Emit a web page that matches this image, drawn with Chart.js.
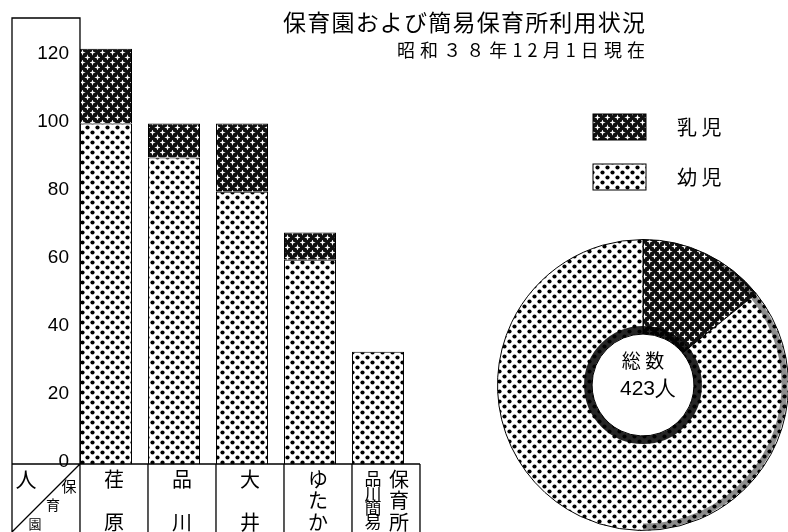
<!DOCTYPE html>
<html>
<head>
<meta charset="utf-8">
<script src="https://cdn.jsdelivr.net/npm/chart.js@4/dist/chart.umd.min.js"></script>
<style>
  html, body { margin: 0; padding: 0; background: #fff; overflow: hidden; }
  #wrap { position: relative; width: 788px; height: 532px; }
  #barChart { position: absolute; left: 0; top: 0; }
  #pieChart { position: absolute; left: 497px; top: 239px; }
</style>
</head>
<body>
<div id="wrap">
  <canvas id="barChart" width="788" height="532"></canvas>
  <canvas id="pieChart" width="292" height="292"></canvas>
</div>
<script>
// data
const categories = [['荏原'], ['品川'], ['大井'], ['ゆたか'], ['品川簡易', '保育所']];
const infants = [22, 10, 20, 8, 0];      // 乳児
const toddlers = [100, 90, 80, 60, 33];  // 幼児
const yTicks = [0, 20, 40, 60, 80, 100, 120];
const seriesNames = ['乳 児', '幼 児'];
const pieLabels = ['乳児', '幼児'];
const pieValues = [60, 363];
const centerText = ['総 数', '423人'];
const titleText = '保育園および簡易保育所利用状況';
const subtitleText = '昭和３８年12月1日現在';

const JP = '"Noto Sans CJK JP", "Noto Sans", sans-serif';
const NUM = '"Liberation Sans Narrow", "Liberation Sans", sans-serif';

function dotPattern(ctx) {
  const c = document.createElement('canvas');
  c.width = 10; c.height = 10;
  const g = c.getContext('2d');
  g.fillStyle = '#fff';
  g.fillRect(0, 0, 10, 10);
  g.fillStyle = '#000';
  [[2.5, 2.5], [7.5, 7.5]].forEach(([x, y]) => {
    g.beginPath();
    g.arc(x, y, 2.1, 0, Math.PI * 2);
    g.fill();
  });
  return ctx.createPattern(c, 'repeat');
}

function starPattern(ctx) {
  const c = document.createElement('canvas');
  c.width = 10; c.height = 10;
  const g = c.getContext('2d');
  g.fillStyle = '#111';
  g.fillRect(0, 0, 10, 10);
  g.fillStyle = '#fff';
  [[2.5, 2.5], [7.5, 7.5]].forEach(([x, y]) => {
    g.beginPath();
    for (let k = 0; k < 8; k++) {
      const r = k % 2 === 0 ? 3.2 : 1.1;
      const a = k * Math.PI / 4;
      g.lineTo(x + r * Math.cos(a), y + r * Math.sin(a));
    }
    g.closePath();
    g.fill();
  });
  return ctx.createPattern(c, 'repeat');
}

const barCtx = document.getElementById('barChart').getContext('2d');
const barDots = dotPattern(barCtx);
const barStars = starPattern(barCtx);

function drawVertical(ctx, text, x, size) {
  const n = text.length;
  const y0 = 479, y1 = 522;
  ctx.font = size + 'px ' + JP;
  for (let i = 0; i < n; i++) {
    const y = n === 1 ? (y0 + y1) / 2 : y0 + (y1 - y0) * i / (n - 1);
    ctx.fillText(text[i], x, y);
  }
}

function spacedText(ctx, text, xRight, y, width) {
  ctx.letterSpacing = '0px';
  const w = ctx.measureText(text).width;
  const sp = (width - w) / (text.length - 1);
  ctx.letterSpacing = sp + 'px';
  ctx.textAlign = 'left';
  ctx.fillText(text, xRight - width, y);
  ctx.letterSpacing = '0px';
}

const framePlugin = {
  id: 'frame',
  afterDraw(chart) {
    const ctx = chart.ctx;
    const x = chart.scales.x;
    const area = chart.chartArea;
    const bw = chart.getDatasetMeta(0).data[0].width;
    const edges = [];
    for (let i = 0; i <= categories.length; i++) edges.push(x.getPixelForValue(i) - bw / 2);
    const left = 12, top = 18, bottom = 532, rowTop = area.bottom;

    ctx.save();
    ctx.strokeStyle = '#000';
    ctx.lineWidth = 1.3;
    ctx.beginPath();
    ctx.moveTo(left, bottom); ctx.lineTo(left, top); ctx.lineTo(edges[0], top); ctx.lineTo(edges[0], bottom);
    ctx.moveTo(left, rowTop); ctx.lineTo(edges[edges.length - 1], rowTop);
    for (let i = 1; i < edges.length; i++) {
      ctx.moveTo(edges[i], rowTop); ctx.lineTo(edges[i], bottom);
    }
    ctx.moveTo(left, bottom); ctx.lineTo(edges[0], rowTop);
    ctx.stroke();

    // header cell
    ctx.fillStyle = '#000';
    ctx.textAlign = 'center';
    ctx.textBaseline = 'middle';
    ctx.font = '21px ' + JP; ctx.fillText('人', 26, 479);
    ctx.font = '15px ' + JP; ctx.fillText('保', 69, 486);
    ctx.font = '14px ' + JP; ctx.fillText('育', 53, 505);
    ctx.font = '13px ' + JP; ctx.fillText('園', 35, 524);

    // category labels, written top to bottom
    categories.forEach((cols, i) => {
      const cx = (edges[i] + edges[i + 1]) / 2;
      cols.forEach((col, j) => {
        const off = cols.length === 1 ? 0 : (j - (cols.length - 1) / 2) * 26;
        const size = col.length > 3 ? 17 : 20;
        drawVertical(ctx, col, cx + off, size);
      });
    });

    // title
    ctx.font = '23px ' + JP;
    spacedText(ctx, titleText, 645, 22, 362);
    ctx.font = '18px ' + JP;
    spacedText(ctx, subtitleText, 645, 50, 248);

    // legend
    const swatches = [barStars, barDots];
    [127, 177].forEach((y, k) => {
      ctx.fillStyle = swatches[k];
      ctx.fillRect(593, y - 13, 53, 26);
      ctx.lineWidth = 1;
      ctx.strokeRect(593, y - 13, 53, 26);
      ctx.fillStyle = '#000';
      ctx.font = '20px ' + JP;
      ctx.textAlign = 'left';
      ctx.fillText(seriesNames[k], 677, y);
    });
    ctx.restore();
  }
};

new Chart(barCtx, {
  type: 'bar',
  data: {
    labels: categories,
    datasets: [
      {
        label: '幼児',
        data: toddlers,
        backgroundColor: barDots,
        borderColor: '#000',
        borderWidth: 1,
        barPercentage: 0.765,
        categoryPercentage: 1,
      },
      {
        label: '乳児',
        data: infants,
        backgroundColor: barStars,
        borderColor: '#000',
        borderWidth: 1,
        barPercentage: 0.765,
        categoryPercentage: 1,
      },
    ],
  },
  options: {
    responsive: false,
    animation: false,
    layout: { padding: { left: 0, right: 376, top: 18, bottom: 68 } },
    scales: {
      x: { stacked: true, display: false },
      y: {
        stacked: true,
        min: 0,
        max: 131,
        afterFit: (s) => { s.width = 72; },
        afterBuildTicks: (s) => { s.ticks = yTicks.map((v) => ({ value: v })); },
        ticks: { color: '#000', padding: 3, labelOffset: -2, font: { family: NUM, size: 19 } },
        grid: { display: false, drawTicks: false },
        border: { display: false },
      },
    },
    plugins: {
      legend: { display: false },
      tooltip: { enabled: false },
      title: { display: false },
    },
  },
  plugins: [framePlugin],
});

const pieCtx = document.getElementById('pieChart').getContext('2d');

const ringPlugin = {
  id: 'ring',
  afterDatasetsDraw(chart) {
    const arc = chart.getDatasetMeta(0).data[0];
    const ctx = chart.ctx;
    ctx.save();
    ctx.strokeStyle = 'rgba(0,0,0,0.85)';
    ctx.lineWidth = 8;
    ctx.beginPath();
    ctx.arc(arc.x, arc.y, arc.innerRadius + 4, 0, Math.PI * 2);
    ctx.stroke();
    ctx.strokeStyle = 'rgba(0,0,0,0.45)';
    ctx.lineWidth = 6;
    ctx.beginPath();
    ctx.arc(arc.x, arc.y, arc.outerRadius - 4, -Math.PI / 3, Math.PI / 2);
    ctx.stroke();
    ctx.fillStyle = '#000';
    ctx.textAlign = 'center';
    ctx.textBaseline = 'middle';
    ctx.font = '19px ' + JP;
    ctx.fillText(centerText[0], arc.x, arc.y - 24);
    ctx.font = '21px ' + NUM;
    ctx.fillText(centerText[1], arc.x + 5, arc.y + 4);
    ctx.restore();
  }
};

new Chart(pieCtx, {
  type: 'doughnut',
  data: {
    labels: pieLabels,
    datasets: [{
      data: pieValues,
      backgroundColor: [starPattern(pieCtx), dotPattern(pieCtx)],
      borderColor: '#000',
      borderWidth: 1,
    }],
  },
  options: {
    responsive: false,
    animation: false,
    cutout: '35%',
    plugins: {
      legend: { display: false },
      tooltip: { enabled: false },
    },
  },
  plugins: [ringPlugin],
});
</script>
</body>
</html>
